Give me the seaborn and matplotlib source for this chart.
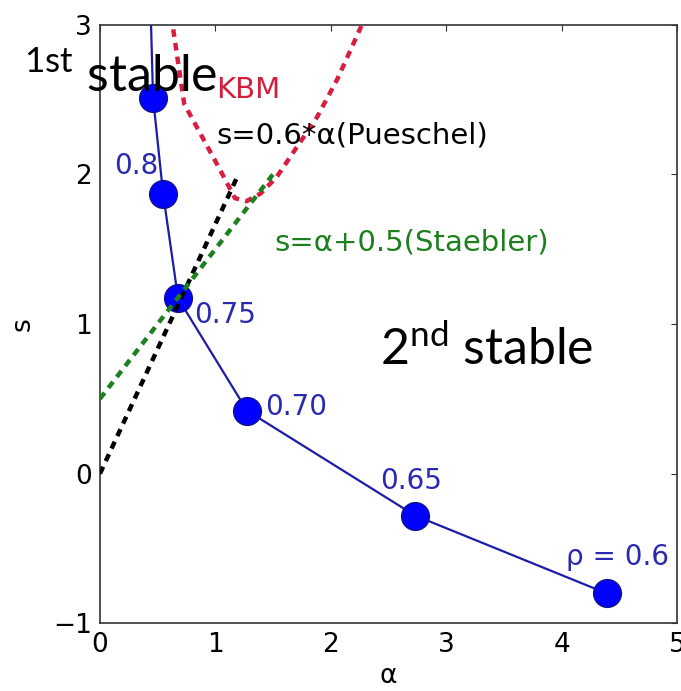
import matplotlib
matplotlib.use("Agg")
import matplotlib.pyplot as plt
import seaborn as sns
import pandas as pd

# Stability boundary traced for decreasing rho
rho_alpha = [0.43, 0.46, 0.547, 0.677, 1.275, 2.73, 4.39]
rho_shear = [3.35, 2.51, 1.87, 1.17, 0.42, -0.28, -0.80]
rho_labels = ["", "", "0.8", "0.75", "0.70", "0.65", "ρ = 0.6"]

# KBM threshold
kbm_alpha = [0.60, 0.73, 1.04, 1.17, 1.27, 1.39, 1.53, 1.67, 1.88, 2.06, 2.30]
kbm_shear = [3.15, 2.47, 2.03, 1.84, 1.82, 1.87, 1.98, 2.14, 2.38, 2.64, 3.05]

# Reference scalings
pueschel_alpha = [0.0, 1.2]
pueschel_shear = [0.0, 2.0]
staebler_alpha = [0.0, 1.5]
staebler_shear = [0.5, 2.0]

x_ticks = [0, 1, 2, 3, 4, 5]
y_ticks = [-1, 0, 1, 2, 3]

sns.set_style("white")
plt.rcParams["font.family"] = ["DejaVu Sans"]
plt.rcParams["mathtext.fontset"] = "custom"
plt.rcParams["mathtext.rm"] = "Lato"

fig = plt.figure(figsize=(6.81, 6.91), dpi=100)
ax = fig.add_axes([0.1468, 0.098, 0.8473, 0.8665])

rho_df = pd.DataFrame({"alpha": rho_alpha, "s": rho_shear})
sns.lineplot(data=rho_df, x="alpha", y="s", ax=ax, sort=False,
             color="#1c1ca8", linewidth=1.6, marker="o", markersize=20,
             markerfacecolor="#0000ff", markeredgecolor="#12128c",
             markeredgewidth=1.0, zorder=2)

dash = (0, (1.7, 1.4))
sns.lineplot(x=kbm_alpha, y=kbm_shear, ax=ax, sort=False, color="#d81e40",
             linewidth=3.2, linestyle=dash, zorder=3)
sns.lineplot(x=pueschel_alpha, y=pueschel_shear, ax=ax, sort=False,
             color="black", linewidth=3.2, linestyle=dash, zorder=3)
sns.lineplot(x=staebler_alpha, y=staebler_shear, ax=ax, sort=False,
             color="#1d7f1d", linewidth=3.2, linestyle=dash, zorder=3)

# value labels beside each marker (offsets in pixels)
label_offsets = {"0.8": (-49, 20), "0.75": (16, -25), "0.70": (18, -4),
                 "0.65": (-35, 27), "ρ = 0.6": (-41, 28)}
for a, s, lab in zip(rho_alpha, rho_shear, rho_labels):
    if not lab:
        continue
    ax.annotate(lab, xy=(a, s), xytext=label_offsets[lab],
                textcoords="offset pixels", ha="left", va="baseline",
                fontsize=20, color="#2a2ab0", zorder=4)

ax.text(1.01, 2.507, "KBM", color="#d2203c", fontsize=21,
        ha="left", va="baseline")
ax.text(1.01, 2.206, "s=0.6*α(Pueschel)", color="black", fontsize=21,
        ha="left", va="baseline")
ax.text(1.51, 1.492, "s=α+0.5(Staebler)", color="#1d7f1d", fontsize=21,
        ha="left", va="baseline")

ax.text(-0.66, 2.547, r"${}^{\rm 1st}$ stable", family="Lato",
        fontsize=36, color="black", ha="left",
        va="baseline", clip_on=False, zorder=5)
ax.text(2.424, 0.724, r"2$^{\rm nd}$ stable", family="Lato",
        fontsize=36, color="black", ha="left",
        va="baseline", zorder=5)

ax.set_xlim(0, 5)
ax.set_ylim(-1, 3)
ax.set_xticks(x_ticks)
ax.set_yticks(y_ticks)
ax.set_xlabel("α", fontsize=19, labelpad=4, color="black")
ax.set_ylabel("s", fontsize=19, labelpad=12, color="black")
ax.tick_params(direction="in", length=4, width=0.8, labelsize=19,
               top=True, right=True, pad=6, color="#333333",
               labelcolor="black")
for sp in ax.spines.values():
    sp.set_color("#333333")
    sp.set_linewidth(1.2)

fig.savefig("out.png", dpi=100)
